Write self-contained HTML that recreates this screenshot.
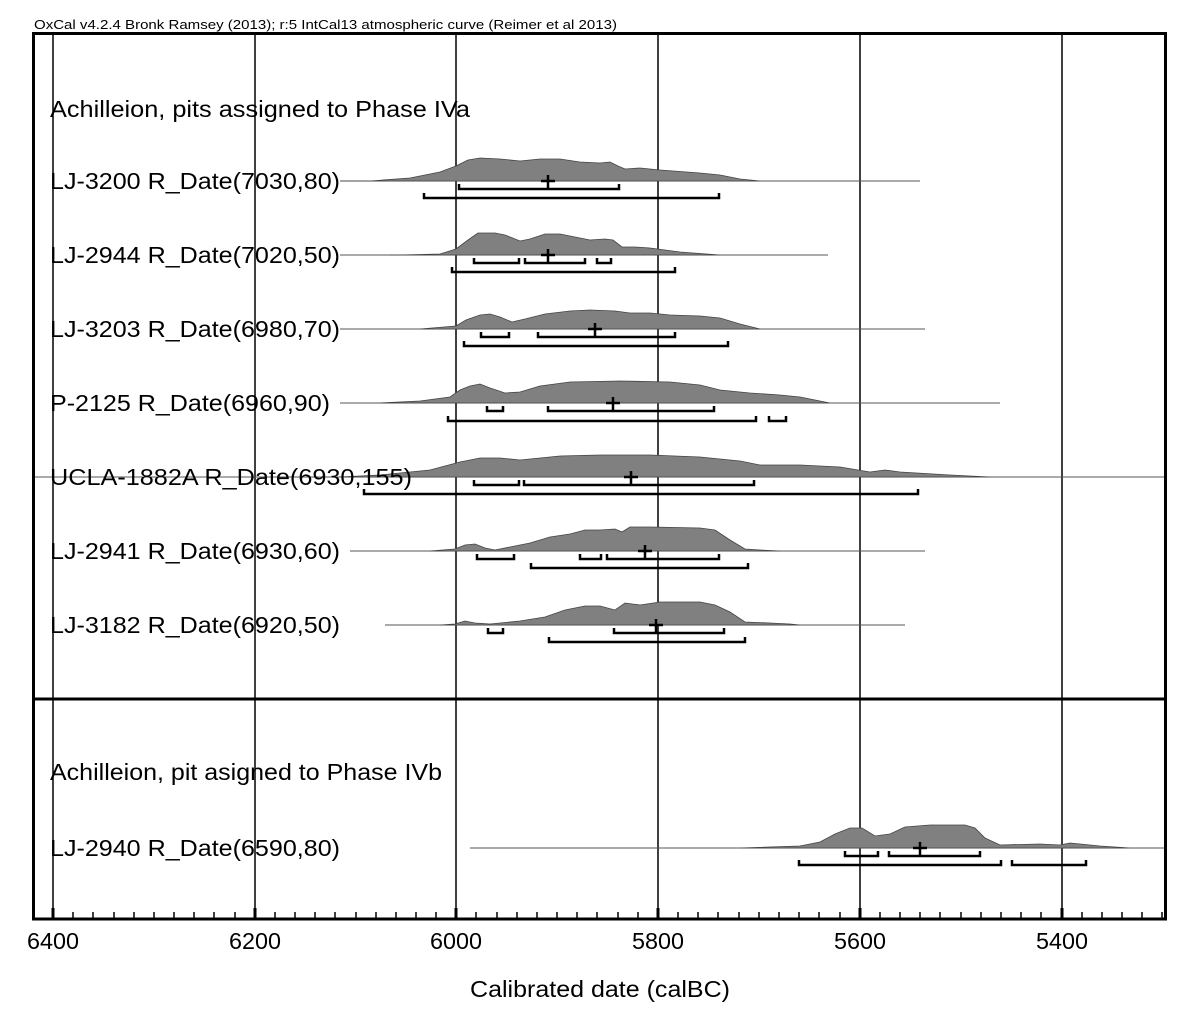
<!DOCTYPE html>
<html><head><meta charset="utf-8"><style>body{margin:0;background:#fff}svg{display:block}</style></head><body>
<svg width="1200" height="1022" viewBox="0 0 1200 1022" xmlns="http://www.w3.org/2000/svg" font-family="Liberation Sans, sans-serif">
<rect width="1200" height="1022" fill="#fff"/>
<text x="34" y="29" font-size="13" textLength="583" lengthAdjust="spacingAndGlyphs">OxCal v4.2.4 Bronk Ramsey (2013); r:5 IntCal13 atmospheric curve (Reimer et al 2013)</text>
<g stroke="#000" stroke-width="1.5">
<line x1="53" y1="33" x2="53" y2="919"/><line x1="255" y1="33" x2="255" y2="919"/><line x1="456" y1="33" x2="456" y2="919"/><line x1="658" y1="33" x2="658" y2="919"/><line x1="860" y1="33" x2="860" y2="919"/><line x1="1062" y1="33" x2="1062" y2="919"/>
</g>
<g stroke="#555" stroke-width="1">
<line x1="340" y1="181" x2="920" y2="181"/><line x1="340" y1="255" x2="828" y2="255"/><line x1="340" y1="329" x2="925" y2="329"/><line x1="340" y1="403" x2="1000" y2="403"/><line x1="33" y1="477" x2="1166" y2="477"/><line x1="350" y1="551" x2="925" y2="551"/><line x1="385" y1="625" x2="905" y2="625"/><line x1="470" y1="848" x2="1166" y2="848"/>
</g>
<g fill="#808080" stroke="#444" stroke-width="0.8">
<path d="M340,181 L370,181 410,178 440,172 456,166 468,160 480,158 500,159 520,161 540,159 560,159 580,162 600,163 610,162 618,166 625,169 640,168 660,170 700,173 720,175 740,179 760,181Z"/>
<path d="M390,255 L400,255 440,254 456,249 468,240 478,233 495,233 505,235 520,241 530,239 545,234 560,234 575,237 590,240 605,239 613,240 622,247 635,247 650,248 680,252 720,255Z"/>
<path d="M420,329 L456,326 466,320 480,315 490,314 500,317 512,322 525,319 545,314 570,311 590,310 615,311 630,313 650,313 670,315 700,316 720,318 740,324 760,329Z"/>
<path d="M380,403 L420,401 450,397 460,390 470,386 480,384 490,388 505,393 520,392 540,386 570,382 620,381 670,382 700,385 720,390 750,393 780,395 800,397 815,400 830,403Z"/>
<path d="M340,477 L380,475 430,470 460,462 480,458 500,458 520,460 560,456 600,455 650,455 700,457 740,461 760,465 800,465 840,467 870,472 885,470 900,472 950,475 990,477Z"/>
<path d="M430,551 L455,549 465,545 475,544 485,548 495,550 510,547 530,543 550,537 570,534 585,530 600,530 615,529 622,532 630,527 650,527 700,528 715,530 730,540 745,549 760,550 780,551Z"/>
<path d="M440,625 L455,624 465,621 475,623 490,624 520,621 545,617 565,610 585,606 600,606 615,610 625,603 640,605 660,602 700,602 715,605 730,612 745,622 770,623 790,624 800,625Z"/>
<path d="M740,848 L800,846 820,842 835,834 850,828 862,828 875,836 890,834 905,827 930,825 965,825 975,828 985,838 1000,845 1040,844 1060,845 1070,843 1080,844 1100,846 1130,848Z"/>
</g>
<g fill="none" stroke="#000" stroke-width="2.5">
<path d="M459,184V189H619V184M424,193V198H719V193"/>
<path d="M474,258V263H519V258M525,258V263H585V258M597,258V263H611V258M452,267V272H675V267"/>
<path d="M481,332V337H509V332M538,332V337H675V332M464,341V346H728V341"/>
<path d="M487,406V411H503V406M548,406V411H714V406M448,416V421H756V416M769,416V421H786V416"/>
<path d="M474,480V485H519V480M524,480V485H754V480M364,489V494H918V489"/>
<path d="M477,554V559H514V554M580,554V559H601V554M607,554V559H719V554M531,563V568H748V563"/>
<path d="M488,628V633H503V628M614,628V633H724V628M549,637V642H745V637"/>
<path d="M845,851V856H878V851M889,851V856H980V851M799,860V865H1001V860M1012,860V865H1086V860"/>
</g>
<g stroke="#000" stroke-width="2.5">
<path d="M548,175V188M541,181H555"/><path d="M548,249V262M541,255H555"/><path d="M595,323V336M588,329H602"/><path d="M613,397V410M606,403H620"/><path d="M631,471V484M624,477H638"/><path d="M645,545V558M638,551H652"/><path d="M656,619V632M649,625H663"/><path d="M920,842V855M913,848H927"/>
</g>
<g font-size="23" fill="#000" lengthAdjust="spacingAndGlyphs">
<text x="50" y="117" textLength="420" lengthAdjust="spacingAndGlyphs">Achilleion, pits assigned to Phase IVa</text>
<text x="50" y="189" textLength="290" lengthAdjust="spacingAndGlyphs">LJ-3200 R_Date(7030,80)</text>
<text x="50" y="263" textLength="290" lengthAdjust="spacingAndGlyphs">LJ-2944 R_Date(7020,50)</text>
<text x="50" y="337" textLength="290" lengthAdjust="spacingAndGlyphs">LJ-3203 R_Date(6980,70)</text>
<text x="50" y="411" textLength="280" lengthAdjust="spacingAndGlyphs">P-2125 R_Date(6960,90)</text>
<text x="50" y="485" textLength="362" lengthAdjust="spacingAndGlyphs">UCLA-1882A R_Date(6930,155)</text>
<text x="50" y="559" textLength="290" lengthAdjust="spacingAndGlyphs">LJ-2941 R_Date(6930,60)</text>
<text x="50" y="633" textLength="290" lengthAdjust="spacingAndGlyphs">LJ-3182 R_Date(6920,50)</text>
<text x="50" y="780" textLength="392" lengthAdjust="spacingAndGlyphs">Achilleion, pit asigned to Phase IVb</text>
<text x="50" y="856" textLength="290" lengthAdjust="spacingAndGlyphs">LJ-2940 R_Date(6590,80)</text>
</g>
<g fill="none" stroke="#000" stroke-width="3">
<rect x="33.5" y="33.5" width="1132" height="885.5"/>
<line x1="33" y1="699" x2="1166" y2="699"/>
</g>
<g font-size="23" text-anchor="middle">
<text x="53" y="949" textLength="52" lengthAdjust="spacingAndGlyphs">6400</text><text x="255" y="949" textLength="52" lengthAdjust="spacingAndGlyphs">6200</text><text x="456" y="949" textLength="52" lengthAdjust="spacingAndGlyphs">6000</text><text x="658" y="949" textLength="52" lengthAdjust="spacingAndGlyphs">5800</text><text x="860" y="949" textLength="52" lengthAdjust="spacingAndGlyphs">5600</text><text x="1062" y="949" textLength="52" lengthAdjust="spacingAndGlyphs">5400</text>
<text x="600" y="997" textLength="260" lengthAdjust="spacingAndGlyphs">Calibrated date (calBC)</text>
</g>
<path stroke="#000" stroke-width="1.5" d="M73,919v-7M93,919v-7M114,919v-7M134,919v-7M154,919v-7M174,919v-7M194,919v-7M214,919v-7M235,919v-7M275,919v-7M295,919v-7M315,919v-7M335,919v-7M356,919v-7M376,919v-7M396,919v-7M416,919v-7M436,919v-7M476,919v-7M497,919v-7M517,919v-7M537,919v-7M557,919v-7M577,919v-7M597,919v-7M618,919v-7M638,919v-7M678,919v-7M698,919v-7M718,919v-7M739,919v-7M759,919v-7M779,919v-7M799,919v-7M819,919v-7M840,919v-7M880,919v-7M900,919v-7M920,919v-7M940,919v-7M961,919v-7M981,919v-7M1001,919v-7M1021,919v-7M1041,919v-7M1082,919v-7M1102,919v-7M1122,919v-7M1142,919v-7M1162,919v-7"/>
<path stroke="#000" stroke-width="3" d="M53,919v-11M255,919v-11M456,919v-11M658,919v-11M860,919v-11M1062,919v-11"/>
</svg>
</body></html>
